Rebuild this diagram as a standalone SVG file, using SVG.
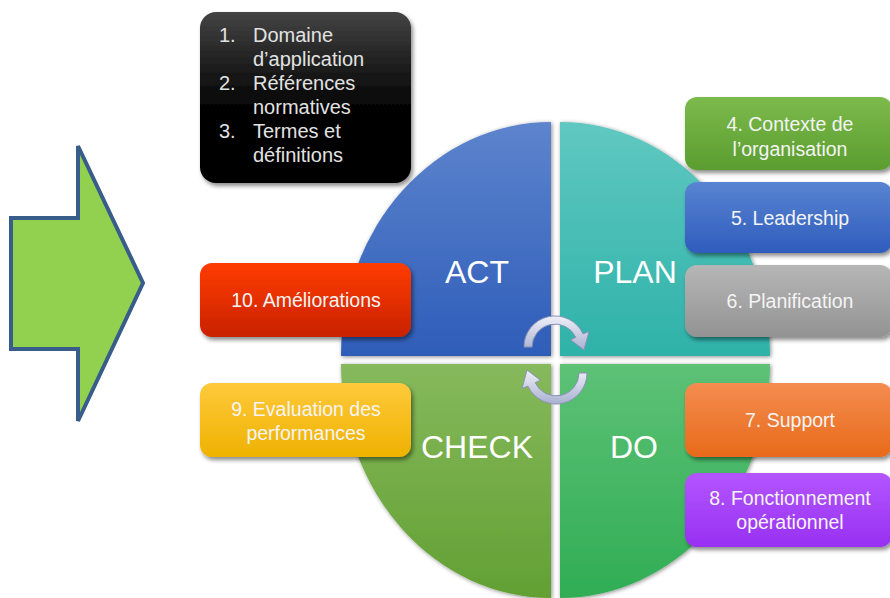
<svg xmlns="http://www.w3.org/2000/svg" width="890" height="598" viewBox="0 0 890 598">
<defs>
  <linearGradient id="gAct" x1="0" y1="0" x2="0" y2="1"><stop offset="0" stop-color="#5d84cd"/><stop offset="1" stop-color="#2e5db9"/></linearGradient>
  <linearGradient id="gPlan" x1="0" y1="0" x2="0" y2="1"><stop offset="0" stop-color="#60c8c1"/><stop offset="1" stop-color="#2eb2a9"/></linearGradient>
  <linearGradient id="gCheck" x1="0" y1="0" x2="0" y2="1"><stop offset="0" stop-color="#86b95c"/><stop offset="1" stop-color="#62a033"/></linearGradient>
  <linearGradient id="gDo" x1="0" y1="0" x2="0" y2="1"><stop offset="0" stop-color="#5dc176"/><stop offset="1" stop-color="#30ad54"/></linearGradient>
  <linearGradient id="gBlack" x1="0" y1="0" x2="0" y2="1"><stop offset="0" stop-color="#444444"/><stop offset="0.35" stop-color="#1a1a1a"/><stop offset="0.6" stop-color="#000"/><stop offset="1" stop-color="#000"/></linearGradient>
  <linearGradient id="gGreen" x1="0" y1="0" x2="0" y2="1"><stop offset="0" stop-color="#7cba4c"/><stop offset="1" stop-color="#5b9d2f"/></linearGradient>
  <linearGradient id="gBlue" x1="0" y1="0" x2="0" y2="1"><stop offset="0" stop-color="#5884d2"/><stop offset="1" stop-color="#2f5cbc"/></linearGradient>
  <linearGradient id="gGray" x1="0" y1="0" x2="0" y2="1"><stop offset="0" stop-color="#b6b6b6"/><stop offset="1" stop-color="#939393"/></linearGradient>
  <linearGradient id="gOrange" x1="0" y1="0" x2="0" y2="1"><stop offset="0" stop-color="#f48c50"/><stop offset="1" stop-color="#e86a1a"/></linearGradient>
  <linearGradient id="gPurple" x1="0" y1="0" x2="0" y2="1"><stop offset="0" stop-color="#b356ff"/><stop offset="1" stop-color="#9830f2"/></linearGradient>
  <linearGradient id="gRed" x1="0" y1="0" x2="0" y2="1"><stop offset="0" stop-color="#ff3c00"/><stop offset="1" stop-color="#c92200"/></linearGradient>
  <linearGradient id="gYellow" x1="0" y1="0" x2="0" y2="1"><stop offset="0" stop-color="#ffc93c"/><stop offset="1" stop-color="#eeb200"/></linearGradient>
  <linearGradient id="gArrow" x1="0" y1="0" x2="0" y2="1"><stop offset="0" stop-color="#eef0f8"/><stop offset="1" stop-color="#a9b1d1"/></linearGradient>
  <filter id="shBox" x="-10%" y="-10%" width="125%" height="130%">
    <feDropShadow dx="2" dy="3" stdDeviation="2" flood-color="#000" flood-opacity="0.45"/>
  </filter>
  <filter id="shQ" x="-10%" y="-10%" width="120%" height="120%">
    <feDropShadow dx="1" dy="1" stdDeviation="2" flood-color="#000" flood-opacity="0.45"/>
  </filter>
</defs>
<style>
  text { font-family: "Liberation Sans", Arial, sans-serif; }
  .bt { font-size: 19.5px; fill: #f4f4f4; text-anchor: middle; }
  .qt { font-size: 32px; fill: #ffffff; text-anchor: middle; }
  .kt { font-size: 20px; fill: #e2e2e2; }
  .box { filter: url(#shBox); }
  .quad { filter: url(#shQ); }
  .carrow { fill: url(#gArrow); stroke: #8a92b4; stroke-width: 1; }
</style>

<g id="big-arrow">
  <polygon points="11,218 78,218 78,146 143,283 78,421 78,349 11,349" fill="#92d050" stroke="#385d8a" stroke-width="4" stroke-linejoin="miter"/>
</g>

<g id="act">
  <path class="quad" d="M551 356 L341 356 A210 234 0 0 1 551 122 Z" fill="url(#gAct)"/>
  <text class="qt" x="477" y="283">ACT</text>
</g>
<g id="plan">
  <path class="quad" d="M560 356 L560 122 A210 234 0 0 1 770 356 Z" fill="url(#gPlan)"/>
  <text class="qt" x="635" y="283">PLAN</text>
</g>
<g id="check">
  <path class="quad" d="M551 364 L551 598 A210 234 0 0 1 341 364 Z" fill="url(#gCheck)"/>
  <text class="qt" x="477" y="458">CHECK</text>
</g>
<g id="do">
  <path class="quad" d="M560 364 L770 364 A210 234 0 0 1 560 598 Z" fill="url(#gDo)"/>
  <text class="qt" x="634" y="458">DO</text>
</g>

<g id="connectors">
  <path class="carrow" d="M524 347 A31 31 0 0 1 583.1 333.9 L589 331.4 L584 350 L570.5 339.8 L575.8 337.3 A23 23 0 0 0 532 347 Z"/>
  <path class="carrow" d="M587 373 A31 31 0 0 1 527.9 386.1 L522 388.6 L527 370 L540.5 380.2 L535.2 382.7 A23 23 0 0 0 579 373 Z"/>
</g>

<g id="clauses-1-3">
  <rect class="box" x="200" y="12" width="211" height="171" rx="16" fill="url(#gBlack)"/>
  <text class="kt" x="219" y="42">1.</text>
  <text class="kt" x="253" y="42">Domaine</text>
  <text class="kt" x="253" y="66">d’application</text>
  <text class="kt" x="219" y="90">2.</text>
  <text class="kt" x="253" y="90">Références</text>
  <text class="kt" x="253" y="114">normatives</text>
  <text class="kt" x="219" y="138">3.</text>
  <text class="kt" x="253" y="138">Termes et</text>
  <text class="kt" x="253" y="162">définitions</text>
</g>

<g id="clause-4">
  <rect class="box" x="685" y="97" width="207" height="73" rx="12" fill="url(#gGreen)"/>
  <text class="bt" x="790" y="131">4. Contexte de</text>
  <text class="bt" x="790" y="156">l’organisation</text>
</g>
<g id="clause-5">
  <rect class="box" x="685" y="182" width="207" height="71" rx="12" fill="url(#gBlue)"/>
  <text class="bt" x="790" y="225">5. Leadership</text>
</g>
<g id="clause-6">
  <rect class="box" x="685" y="265" width="207" height="72" rx="12" fill="url(#gGray)"/>
  <text class="bt" x="790" y="308">6. Planification</text>
</g>
<g id="clause-7">
  <rect class="box" x="685" y="383" width="207" height="74" rx="12" fill="url(#gOrange)"/>
  <text class="bt" x="790" y="427">7. Support</text>
</g>
<g id="clause-8">
  <rect class="box" x="685" y="473" width="207" height="74" rx="12" fill="url(#gPurple)"/>
  <text class="bt" x="790" y="505">8. Fonctionnement</text>
  <text class="bt" x="790" y="529">opérationnel</text>
</g>
<g id="clause-10">
  <rect class="box" x="200" y="263" width="211" height="74" rx="12" fill="url(#gRed)"/>
  <text class="bt" x="306" y="307">10. Améliorations</text>
</g>
<g id="clause-9">
  <rect class="box" x="200" y="383" width="211" height="74" rx="12" fill="url(#gYellow)"/>
  <text class="bt" x="306" y="416">9. Evaluation des</text>
  <text class="bt" x="306" y="440">performances</text>
</g>
</svg>
